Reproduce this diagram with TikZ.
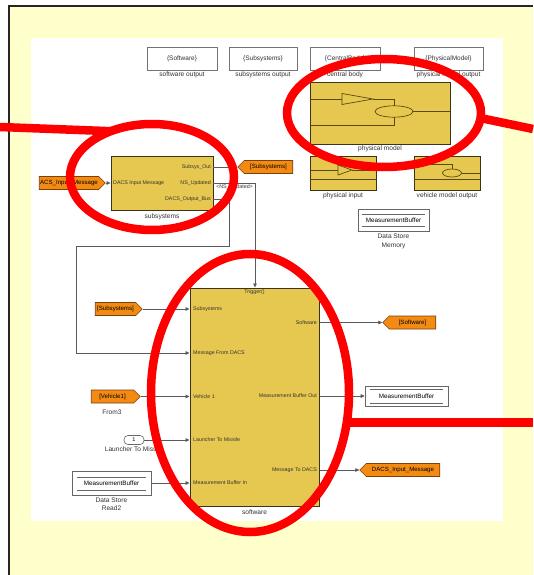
\documentclass[tikz,border=0pt]{standalone}
\usepackage{fontspec}
\setmainfont{Liberation Sans}
\usetikzlibrary{arrows.meta,shapes.symbols,shapes.geometric,calc}

\definecolor{pagebg}{HTML}{FFFFCC}
\definecolor{blockfill}{HTML}{E6C850}
\definecolor{blockedge}{HTML}{3C3418}
\definecolor{iconline}{HTML}{5A4A12}
\definecolor{tagfill}{HTML}{F38A12}
\definecolor{tagedge}{HTML}{7A4010}
\definecolor{wirecol}{HTML}{5A5A5A}
\definecolor{redmark}{HTML}{FF0000}
\definecolor{txt}{HTML}{333333}

\tikzset{
  lbl/.style={font=\fontsize{6.6}{7.5}\selectfont, text=txt, inner sep=0pt},
  portlbl/.style={font=\fontsize{5.3}{6}\selectfont, text=txt, inner sep=0pt},
  blk/.style={draw=blockedge, fill=blockfill, line width=0.8pt, inner sep=0pt},
  icon/.style={draw=iconline, line width=0.7pt},
  visbox/.style={draw=black!55, fill=white, line width=0.6pt, minimum height=23pt,
    inner sep=0pt, font=\fontsize{6.5}{7}\selectfont, text=txt},
  storebox/.style={draw=black!60, fill=white, line width=0.6pt, inner sep=0pt},
  tagbase/.style={signal, draw=tagedge, fill=tagfill, line width=0.6pt,
    minimum height=13pt, inner sep=0.6pt, font=\fontsize{6.1}{7}\selectfont, text=black},
  fromtag/.style={tagbase, signal to=east, signal from=nowhere},
  gototag/.style={tagbase, signal to=west, signal from=nowhere},
  constbox/.style={draw=black!60, fill=white, rounded corners=4pt, line width=0.6pt,
    minimum width=20pt, minimum height=9pt, inner sep=0pt, font=\fontsize{5.5}{6}\selectfont},
  wire/.style={draw=wirecol, line width=0.7pt},
  sig/.style={wire, -{Triangle[length=4pt,width=3.6pt]}},
  ring/.style={draw=redmark, line width=8.5pt, ellipse, inner sep=0pt, outer sep=0pt},
  redline/.style={draw=redmark, line width=8.5pt},
}

\begin{document}
\begin{tikzpicture}[x=1pt,y=-1pt]
\useasboundingbox (0,0) rectangle (533,575);

% page and model canvas
\fill[pagebg] (9,6) rectangle (533,575);
\fill[white] (31,38) rectangle (503,521);
\draw[line width=2pt, draw=black!85] (9,575) -- (9,6) -- (533,6);

% goto tag visibility blocks
\node[visbox, minimum width=70pt] (visSw) at (182,58.5) {\{Software\}};
\node[lbl] (visSwL) at (182,75) {software output};
\node[visbox, minimum width=68pt] (visSs) at (263,58.5) {\{Subsystems\}};
\node[lbl] (visSsL) at (263,75) {subsystems output};
\node[visbox, minimum width=70pt] (visCb) at (345,58.5) {\{CentralBody\}};
\node[lbl] (visCbL) at (345,75) {central body};
\node[visbox, minimum width=69pt] (visPm) at (448.5,58.5) {\{PhysicalModel\}};
\node[lbl] (visPmL) at (448.5,75) {physical model output};

% physical model subsystem
\node[blk, minimum width=140pt, minimum height=62pt] (phys) at (380,113) {};
\node[lbl] (physL) at (380,149) {physical model};
\draw[icon] (310,99) -- (342,99);
\draw[icon] (342,93.5) -- (373,99) -- (342,104.5) -- cycle;
\draw[icon] (373,99) -- (394,99) -- (394,105.8);
\draw[icon] (394,111.5) ellipse [x radius=19pt, y radius=5.7pt];
\draw[icon] (413,111.5) -- (450,111.5);
\draw[icon] (310,125) -- (394,125) -- (394,117.2);

% physical input subsystem
\node[blk, minimum width=66pt, minimum height=34pt] (physIn) at (343,173) {};
\node[lbl] (physInL) at (343,196) {physical input};
\draw[icon] (310,170) -- (338,170);
\draw[icon] (338,165) -- (352,170) -- (338,175) -- cycle;
\draw[icon] (352,170) -- (376,170);
\draw[icon] (310,179) -- (376,179);

% vehicle model output subsystem
\node[blk, minimum width=66pt, minimum height=34pt] (vehOut) at (447,173) {};
\node[lbl] (vehOutL) at (447,196) {vehicle model output};
\draw[icon] (414,164) -- (452,164) -- (452,169);
\draw[icon] (452,173) ellipse [x radius=9.5pt, y radius=4pt];
\draw[icon] (461.5,173) -- (480,173);
\draw[icon] (414,179) -- (480,179);

% data store memory
\node[storebox, minimum width=71pt, minimum height=22pt] (dsm) at (393.5,220) {};
\draw[black!60, line width=0.5pt] (362,214.5) -- (425,214.5) (362,226) -- (425,226);
\node[font=\fontsize{6.3}{7}\selectfont, inner sep=0pt] (dsmT) at (393.5,220.5) {MeasurementBuffer};
\node[lbl] (dsmL1) at (393.5,236.5) {Data Store};
\node[lbl] (dsmL2) at (393.5,245.5) {Memory};

% subsystems block
\node[blk, minimum width=102pt, minimum height=54pt] (subsys) at (162,183) {};
\node[lbl] (subsysL) at (162,216.5) {subsystems};
\node[portlbl, anchor=west] (ssP1) at (113,183) {DACS Input Message};
\node[portlbl, anchor=east] (ssP2) at (211,167) {Subsys\_Out};
\node[portlbl, anchor=east] (ssP3) at (211,183) {NS\_Updated};
\node[portlbl, anchor=east] (ssP4) at (211,199) {DACS\_Output\_Bus};
\coordinate (ssOut1) at (213,167);
\coordinate (ssOut2) at (213,183);
\coordinate (ssOut3) at (213,199);

% tags around the subsystems block
\node[fromtag, minimum width=66pt] (fromAcs) at (69,183) {ACS\_Input\_Message};
\node[gototag, minimum width=55pt] (gotoSubs) at (268.5,167) {[Subsystems]};

% software block
\node[blk, line width=1pt, minimum width=129pt, minimum height=218pt] (soft) at (254.5,397) {};
\node[lbl] (softL) at (254.5,512) {software};
\node[portlbl] (trig) at (254.5,292.5) {Trigger()};
\node[portlbl, anchor=west] (swIn1) at (193,309) {Subsystems};
\node[portlbl, anchor=west] (swIn2) at (193,353) {Message From DACS};
\node[portlbl, anchor=west] (swIn3) at (193,396.5) {Vehicle 1};
\node[portlbl, anchor=west] (swIn4) at (193,440) {Launcher To Missile};
\node[portlbl, anchor=west] (swIn5) at (193,483) {Measurement Buffer In};
\node[portlbl, anchor=east] (swOut1) at (317,322.5) {Software};
\node[portlbl, anchor=east] (swOut2) at (317,396) {Measurement Buffer Out};
\node[portlbl, anchor=east] (swOut3) at (317,470) {Message To DACS};

% sources on the left of the software block
\node[fromtag, minimum width=47pt] (fromSubs) at (115.5,309) {[Subsystems]};
\node[fromtag, minimum width=49pt] (fromVeh) at (112.5,396.5) {[Vehicle1]};
\node[lbl] (fromVehL) at (112,412) {From3};
\node[constbox] (launch) at (134,440) {1};
\node[lbl] (launchL) at (134,449.5) {Launcher To Missile};
\node[storebox, minimum width=79pt, minimum height=24pt] (dsr) at (111.5,483) {};
\draw[black!60, line width=0.5pt] (77,477) -- (146,477) (77,490) -- (146,490);
\node[font=\fontsize{6.3}{7}\selectfont, inner sep=0pt] (dsrT) at (111.5,483.5) {MeasurementBuffer};
\node[lbl] (dsrL1) at (111.5,500) {Data Store};
\node[lbl] (dsrL2) at (111.5,508.5) {Read2};

% sinks on the right of the software block
\node[gototag, minimum width=53pt] (gotoSw) at (412.5,322.5) {[Software]};
\node[storebox, minimum width=83pt, minimum height=20pt] (dsw) at (406.5,396) {};
\draw[black!60, line width=0.5pt] (370,389.5) -- (443,389.5) (370,403) -- (443,403);
\node[font=\fontsize{6.3}{7}\selectfont, inner sep=0pt] (dswT) at (406.5,396.5) {MeasurementBuffer};
\node[gototag, minimum width=80pt] (gotoDacs) at (403,470) {DACS\_Input\_Message};

% signal lines
\coordinate (nsCorner) at (255,183);
\coordinate (busA) at (229,246);
\coordinate (busB) at (76,353);
\draw[sig] (fromAcs.east) -- (fromAcs.east -| subsys.west);
\draw[sig] (ssOut1) -- (gotoSubs.west);
\draw[wire] (ssOut2) -- (nsCorner);
\draw[sig] (nsCorner) -- (nsCorner |- soft.north);
\node[portlbl, anchor=east] (nsLbl) at (253,187) {<NS\_Updated>};
\draw[sig] (ssOut3) -| (busA) -| (busB) -- (busB -| soft.west);
\draw[sig] (fromSubs.east) -- (fromSubs.east -| soft.west);
\draw[sig] (fromVeh.east) -- (fromVeh.east -| soft.west);
\draw[sig] (launch.east) -- (launch.east -| soft.west);
\draw[sig] (dsr.east) -- (dsr.east -| soft.west);
\draw[sig] (swOut1.east -| soft.east) -- (gotoSw.west);
\draw[sig] (swOut2.east -| soft.east) -- (dsw.west);
\draw[sig] (swOut3.east -| soft.east) -- (gotoDacs.west);

% red highlight rings and leaders
\coordinate (edgeL) at (0,127);
\coordinate (edgeR) at (533,129);
\coordinate (edgeR2) at (533,422);
\node[ring, minimum width=164pt, minimum height=106pt] (ring1) at (152,177) {};
\node[ring, minimum width=194pt, minimum height=108pt] (ring2) at (384,113) {};
\node[ring, minimum width=198pt, minimum height=278pt] (ring3) at (250,393) {};
\draw[redline] (edgeL) -- (ring1.132);
\draw[redline] (ring2.-3) -- (edgeR);
\draw[redline] (ring3.-17) -- (ring3.-17 -| edgeR2);
\end{tikzpicture}
\end{document}
